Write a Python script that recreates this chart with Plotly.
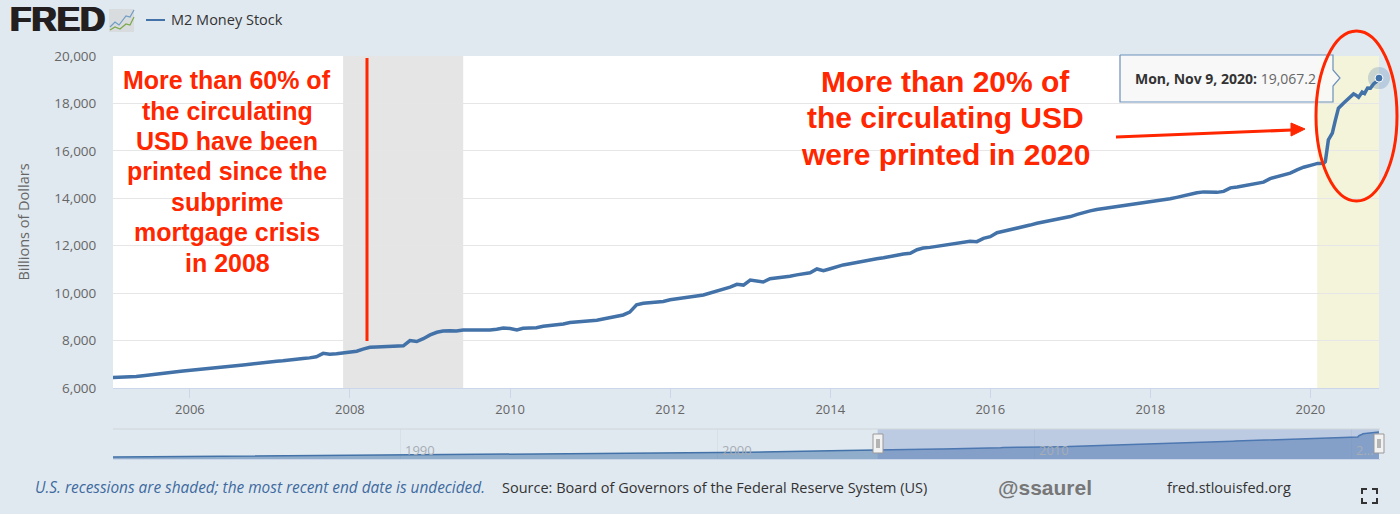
import pandas as pd
import plotly.graph_objects as go

# M2 readings, monthly up to 2019, billions of dollars
m2_2005 = [6435, 6440, 6455, 6470, 6490, 6520, 6560, 6590, 6630, 6660, 6690, 6720]
m2_2006 = [6745, 6760, 6790, 6820, 6840, 6880, 6910, 6940, 6970, 7000, 7040, 7080]
m2_2007 = [7110, 7130, 7150, 7190, 7210, 7240, 7270, 7320, 7460, 7420, 7440, 7470]
m2_2008 = [7505, 7550, 7640, 7715, 7730, 7750, 7760, 7770, 7780, 8000, 7960, 8080]
m2_2009 = [8240, 8350, 8400, 8410, 8400, 8445, 8440, 8450, 8445, 8450, 8480, 8530]
m2_2010 = [8510, 8450, 8520, 8530, 8540, 8600, 8630, 8660, 8700, 8760, 8780, 8800]
m2_2011 = [8830, 8860, 8910, 8960, 9020, 9080, 9200, 9510, 9570, 9590, 9620, 9650]
m2_2012 = [9720, 9770, 9790, 9830, 9880, 9920, 10000, 10080, 10170, 10250, 10370, 10340]
m2_2013 = [10550, 10490, 10470, 10610, 10640, 10680, 10710, 10770, 10810, 10860, 11020, 10950]
m2_2014 = [11030, 11130, 11190, 11240, 11300, 11350, 11410, 11450, 11490, 11560, 11600, 11650]
m2_2015 = [11680, 11830, 11900, 11930, 11970, 12000, 12040, 12090, 12130, 12185, 12170, 12310]
m2_2016 = [12380, 12550, 12610, 12670, 12740, 12800, 12870, 12950, 13000, 13060, 13130, 13180]
m2_2017 = [13230, 13320, 13400, 13470, 13530, 13570, 13610, 13650, 13700, 13750, 13790, 13820]
m2_2018 = [13860, 13890, 13920, 13980, 14040, 14110, 14170, 14230, 14270, 14270, 14250, 14290]
m2_2019 = [14440, 14480, 14520, 14560, 14600, 14680, 14830, 14900, 14980, 15060, 15200, 15310]

m2_monthly = (m2_2005 + m2_2006 + m2_2007 + m2_2008 + m2_2009 + m2_2010 + m2_2011 + m2_2012
              + m2_2013 + m2_2014 + m2_2015 + m2_2016 + m2_2017 + m2_2018 + m2_2019)
monthly_dates = pd.date_range("2005-01-01", periods=len(m2_monthly), freq="MS")

# 2020 moves fast so it gets its own finer readings
dates_2020 = ["2020-01-06", "2020-02-03", "2020-03-02", "2020-03-09", "2020-03-23", "2020-04-10",
              "2020-04-24", "2020-05-08", "2020-06-01", "2020-06-23", "2020-07-16", "2020-07-27",
              "2020-08-08", "2020-08-24", "2020-09-04", "2020-09-18", "2020-10-01", "2020-10-15",
              "2020-11-02", "2020-11-09"]
m2_2020 = [15400, 15470, 15480, 15545, 16460, 16750, 17300, 17800, 18020, 18230, 18400, 18350,
           18260, 18480, 18420, 18650, 18640, 18820, 18950, 19067.2]

m2_dates = list(monthly_dates) + [pd.Timestamp(d) for d in dates_2020]
m2_values = m2_monthly + m2_2020

# long history for the navigator strip
nav_years = ["1980-12-01"] + [f"{y}-01-01" for y in range(1982, 2005)]
nav_history = [1600, 1760, 1910, 2130, 2310, 2500, 2730, 2830, 2990, 3170, 3280, 3380,
               3420, 3470, 3490, 3650, 3820, 4030, 4380, 4670, 4920, 5430, 5770, 6070]

y_ticks = [6000, 8000, 10000, 12000, 14000, 16000, 18000, 20000]
left_note = ["More than 60% of", "the circulating", "USD have been", "printed since the",
             "subprime", "mortgage crisis", "in 2008"]
right_note = ["More than 20% of", "the circulating USD", "were printed in 2020"]

W, H = 1400, 514
BG = "#e1e9f0"
BLUE = "#4272a8"
RED = "#ff2600"
FONT = "Open Sans"


def px(x):
    return x / W


def py(y):
    return 1 - y / H


def label(x, y, text, size=14, color="#333333", anchor="left", family=FONT, shadow=None):
    # annotations carry a 1px pad plus a 1px border gap on the left
    if anchor == "left":
        x = x - 2
    font = dict(size=size, color=color, family=family)
    if shadow:
        font["shadow"] = shadow
    return dict(xref="paper", yref="paper", x=px(x), y=py(y), text=text, showarrow=False,
                xanchor=anchor, yanchor="middle", font=font)


def box(x0, y0, x1, y1, **kw):
    return dict(type="rect", xref="paper", yref="paper", x0=px(x0), x1=px(x1), y0=py(y0), y1=py(y1), **kw)


def path(points, **kw):
    d = "M " + " L ".join(f"{px(a)},{py(b)}" for a, b in points)
    return dict(type="path", xref="paper", yref="paper", path=d, **kw)


fig = go.Figure()

fig.add_trace(go.Scatter(x=m2_dates, y=m2_values, mode="lines", name="M2 Money Stock",
                         line=dict(color=BLUE, width=3.5), hoverinfo="skip", showlegend=False))

# current point with its halo
fig.add_trace(go.Scatter(x=[m2_dates[-1]], y=[m2_values[-1]], mode="markers", hoverinfo="skip", showlegend=False,
                         marker=dict(size=22, color="rgba(66,114,168,0.25)"), cliponaxis=False))
fig.add_trace(go.Scatter(x=[m2_dates[-1]], y=[m2_values[-1]], mode="markers", hoverinfo="skip", showlegend=False,
                         marker=dict(size=8, color=BLUE, line=dict(color="white", width=1)), cliponaxis=False))

nav_x = [pd.Timestamp(d) for d in nav_years] + m2_dates
nav_y = nav_history + m2_values
fig.add_trace(go.Scatter(x=nav_x, y=nav_y, mode="lines", xaxis="x2", yaxis="y2", hoverinfo="skip", showlegend=False,
                         line=dict(color=BLUE, width=1.5), fill="tozeroy", fillcolor="rgba(66,114,168,0.5)"))

shapes = [
    # recession bands
    dict(type="rect", xref="x", yref="y", x0="2007-12-01", x1="2009-06-01", y0=6000, y1=20000,
         fillcolor="#e5e5e5", line_width=0, layer="below"),
    dict(type="rect", xref="x", yref="y", x0="2020-02-01", x1="2020-11-09", y0=6000, y1=20000,
         fillcolor="#f4f4da", line_width=0, layer="below"),
    # navigator background and selection
    dict(type="rect", xref="x2", yref="paper", x0="1980-12-01", x1="2020-11-09", y0=py(459), y1=py(429),
         fillcolor=BG, line_width=0, layer="below"),
    dict(type="rect", xref="x2", yref="paper", x0="2005-01-15", x1="2020-11-09", y0=py(459), y1=py(429),
         fillcolor="rgba(102,133,194,0.3)", line_width=0),
    path([(113, 429), (1380, 429)], line=dict(color="#cfd5da", width=1)),
    path([(113, 459.5), (1380, 459.5)], line=dict(color="#ccd6eb", width=1)),
    # navigator handles
    box(873, 434, 883, 453, fillcolor="#f2f2f2", line=dict(color="#999999", width=1)),
    path([(877, 439), (877, 448)], line=dict(color="#777777", width=1)),
    path([(879, 439), (879, 448)], line=dict(color="#777777", width=1)),
    box(1374, 434, 1384, 453, fillcolor="#f2f2f2", line=dict(color="#999999", width=1)),
    path([(1378, 439), (1378, 448)], line=dict(color="#777777", width=1)),
    path([(1380, 439), (1380, 448)], line=dict(color="#777777", width=1)),
    # legend key
    path([(146, 20), (165, 20)], line=dict(color=BLUE, width=2)),
    # FRED logo icon
    box(109, 9, 134, 32, fillcolor="#d9dcdf", line_width=0),
    path([(110, 27), (115, 22), (119, 25), (126, 16), (130, 17), (134, 10)], line=dict(color="#6f9cc4", width=1.2)),
    path([(110, 30), (115, 27), (120, 29), (126, 24), (130, 25), (134, 17)], line=dict(color="#7ba84a", width=1.2)),
    # tooltip
    path([(1120, 55), (1333, 55), (1333, 70), (1340, 78), (1333, 86), (1333, 102), (1120, 102), (1120, 55)],
         fillcolor="rgba(247,247,247,0.92)", line=dict(color="#6d91bb", width=1.2)),
    # red markup
    path([(367, 58), (367, 341)], line=dict(color=RED, width=3)),
    dict(type="circle", xref="paper", yref="paper", x0=px(1316), x1=px(1397), y0=py(31), y1=py(201),
         line=dict(color=RED, width=3)),
    path([(1116, 137), (1292, 130)], line=dict(color=RED, width=3)),
    path([(1291, 123), (1305, 129), (1291, 136), (1291, 123)], fillcolor=RED, line=dict(color=RED, width=1)),
    # fullscreen icon
    path([(1362, 494), (1362, 489), (1367, 489)], line=dict(color="#333333", width=2)),
    path([(1372, 489), (1377, 489), (1377, 494)], line=dict(color="#333333", width=2)),
    path([(1362, 498), (1362, 503), (1367, 503)], line=dict(color="#333333", width=2)),
    path([(1372, 503), (1377, 503), (1377, 498)], line=dict(color="#333333", width=2)),
]

annotations = [
    label(10, 19, "<b>FRED</b>", size=35, color="#231f20", family="Liberation Sans",
          shadow="1px 0 0 #231f20, -1px 0 0 #231f20"),
    label(171, 20, "M2 Money Stock", size=14.5, color="#333333"),
    label(1135, 78, "<b>Mon, Nov 9, 2020:</b> <span style='color:#666666'>19,067.2</span>", size=14, color="#333333"),
    label(35, 487, "<i>U.S. recessions are shaded; the most recent end date is undecided.</i>", size=15.4, color="#3e6a9f"),
    label(502, 487, "Source: Board of Governors of the Federal Reserve System (US)", size=14.5, color="#333333"),
    label(998, 487, "<b>@ssaurel</b>", size=21, color="#777777", family="Liberation Sans"),
    label(1167, 487, "fred.stlouisfed.org", size=14.5, color="#333333"),
]
# the notes sit tighter than plotly's own line height, one annotation per line
for i, line in enumerate(left_note):
    annotations.append(label(227, 80 + i * 30.5, "<b>" + line + "</b>", size=25, color=RED, anchor="center",
                             family="Liberation Sans"))
for i, line in enumerate(right_note):
    annotations.append(label(945, 81 + i * 36.5, "<b>" + line + "</b>", size=30, color=RED, anchor="center",
                             family="Liberation Sans"))
for year, text in [("1990-01-01", "1990"), ("2000-01-01", "2000"), ("2010-01-01", "2010"), ("2020-01-01", "2...")]:
    annotations.append(dict(xref="x2", yref="paper", x=year, y=py(450), text=text, showarrow=False, xanchor="left",
                            yanchor="middle", xshift=2, font=dict(size=13, color="#a6adb5", family=FONT)))

fig.update_layout(
    width=W, height=H, autosize=False,
    margin=dict(l=0, r=0, t=0, b=0),
    paper_bgcolor=BG, plot_bgcolor="white",
    showlegend=False,
    shapes=shapes, annotations=annotations,
    xaxis=dict(domain=[px(113), px(1379)], anchor="y", type="date", range=["2005-01-15", "2020-11-09"],
               tick0="2006-01-01", dtick="M24", tickformat="%Y", showgrid=False, zeroline=False, automargin=False,
               ticks="outside", ticklen=9, tickcolor="#ccd6eb", showline=True, linecolor="#ccd6eb",
               tickfont=dict(size=13, color="#666666", family=FONT)),
    yaxis=dict(domain=[py(388), py(56)], anchor="x", range=[6000, 20000], tickvals=y_ticks, tickformat=",",
               gridcolor="#e6e6e6", gridwidth=1, zeroline=False, automargin=False,
               ticks="outside", ticklen=13, tickcolor="rgba(0,0,0,0)",
               tickfont=dict(size=13.5, color="#666666", family=FONT),
               title=dict(text="Billions of Dollars", font=dict(size=14.5, color="#666666", family=FONT), standoff=21)),
    xaxis2=dict(domain=[px(113), px(1379)], anchor="y2", type="date", range=["1980-12-01", "2020-11-09"],
                tick0="1990-01-01", dtick="M120", showticklabels=False, gridcolor="#d8dfe6", zeroline=False,
                automargin=False),
    yaxis2=dict(domain=[py(459), py(429)], anchor="x2", range=[200, 21160], showticklabels=False,
                showgrid=False, zeroline=False, automargin=False),
)

fig.write_html("out.html", config=dict(displayModeBar=False), post_script="document.body.style.margin='0';")
